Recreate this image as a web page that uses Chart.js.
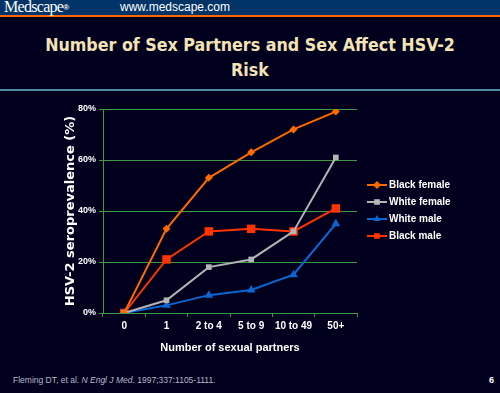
<!DOCTYPE html>
<html>
<head>
<meta charset="utf-8">
<script src="https://cdn.jsdelivr.net/npm/chart.js@4/dist/chart.umd.min.js"></script>
<style>
    html, body { margin: 0; padding: 0; }
    body { width: 500px; height: 393px; background: #00001e; position: relative; overflow: hidden; font-family: "Liberation Sans", Arial, sans-serif; }
    #topbar { position: absolute; left: 0; top: 0; width: 500px; height: 15px; background: #003366; border-bottom: 2px solid #ff6600; }
    #brand { position: absolute; left: 4px; top: -2px; color: #fff; font-family: "Liberation Serif", serif; font-size: 16px; letter-spacing: -0.7px; }
    #brand sup { font-size: 8px; font-family: "Liberation Sans", sans-serif; font-weight: bold; vertical-align: 2px; }
    #site { position: absolute; left: 120px; top: 0px; color: #fff; font-size: 12px; }
    #title { position: absolute; left: 0; top: 33px; width: 500px; text-align: center; color: #f3e3b5; font-family: "DejaVu Sans Condensed", "DejaVu Sans", sans-serif; font-weight: bold; font-size: 17.7px; line-height: 25px; }
    #rule { position: absolute; left: 0; top: 89px; width: 500px; height: 2px; background: #4f8aa8; }
    #source { position: absolute; left: 13px; top: 375px; color: #b8b8c8; font-size: 8.5px; }
    #page { position: absolute; left: 489px; top: 375px; color: #fff; font-size: 9px; font-weight: bold; }
    #chart { position: absolute; left: 0; top: 0; }
</style>
</head>
<body>
<div id="topbar"><div id="brand">Medscape<sup>®</sup></div><div id="site">www.medscape.com</div></div>
<div id="title">Number of Sex Partners and Sex Affect HSV-2<br>Risk</div>
<div id="rule"></div>
<div id="source">Fleming DT, et al. <i>N Engl J Med.</i> 1997;337:1105-1111.</div>
<div id="page">6</div>
<canvas id="chart" width="500" height="393"></canvas>
<script>
// Categories and series (percent seropositive)
const partnerGroups = ['0', '1', '2 to 4', '5 to 9', '10 to 49', '50+'];
const blackFemale = [0, 33, 53, 63, 72, 79];
const whiteFemale = [0, 5, 18, 21, 32, 61];
const whiteMale = [0, 3, 7, 9, 15, 35];
const blackMale = [0, 21, 32, 33, 32, 41];
const yTicks = [0, 20, 40, 60, 80];

const gridGreen = '#3a9a46';
const seriesStyles = [
    { label: 'Black female', data: blackFemale, color: '#ff6a00', point: 'rectRot', radius: 4 },
    { label: 'White female', data: whiteFemale, color: '#b4b4b4', point: 'rect', radius: 4 },
    { label: 'White male', data: whiteMale, color: '#0a66d0', point: 'triangle', radius: 5 },
    { label: 'Black male', data: blackMale, color: '#ff3300', point: 'rect', radius: 6 }
];

// Draws the legend to the right of the plot, line sample + marker + text
const sideLegend = {
    id: 'sideLegend',
    afterDraw(chart) {
        const ctx = chart.ctx;
        ctx.save();
        ctx.font = 'bold 10px "Liberation Sans", Arial, sans-serif';
        ctx.textBaseline = 'middle';
        chart.data.datasets.forEach((ds, i) => {
            const y = 185 + i * 17;
            const x0 = 367, x1 = 387;
            ctx.strokeStyle = ds.borderColor;
            ctx.lineWidth = 2;
            ctx.beginPath();
            ctx.moveTo(x0, y);
            ctx.lineTo(x1, y);
            ctx.stroke();
            ctx.fillStyle = ds.backgroundColor;
            Chart.helpers.drawPoint(ctx, { pointStyle: ds.pointStyle, radius: Math.min(ds.pointRadius, 4), rotation: 0, borderWidth: 0 }, (x0 + x1) / 2, y);
            ctx.fillStyle = '#ffffff';
            ctx.fillText(ds.label, 389, y);
        });
        ctx.restore();
    }
};

new Chart(document.getElementById('chart'), {
    type: 'line',
    data: {
        labels: partnerGroups,
        datasets: seriesStyles.map(s => ({
            label: s.label,
            data: s.data,
            borderColor: s.color,
            backgroundColor: s.color,
            borderWidth: 2,
            pointStyle: s.point,
            pointRadius: s.radius,
            pointBorderWidth: 0,
            tension: 0
        }))
    },
    options: {
        responsive: false,
        animation: false,
        layout: { padding: { left: 63, right: 143, top: 109, bottom: 38 } },
        plugins: {
            legend: { display: false },
            tooltip: { enabled: false }
        },
        scales: {
            x: {
                offset: true,
                afterFit(scale) { scale.height = 42; },
                grid: {
                    offset: true,
                    drawOnChartArea: true,
                    color: ctx => (ctx.index === partnerGroups.length ? gridGreen : 'rgba(0,0,0,0)'),
                    tickColor: gridGreen,
                    tickLength: 4,
                    lineWidth: 1
                },
                border: { color: gridGreen, width: 1 },
                ticks: {
                    color: '#ffffff',
                    padding: 3,
                    maxRotation: 0,
                    minRotation: 0,
                    autoSkip: false,
                    font: { family: '"Liberation Sans", Arial, sans-serif', size: 10, weight: 'bold' }
                },
                title: {
                    display: true,
                    text: 'Number of sexual partners',
                    color: '#ffffff',
                    padding: { top: 6, bottom: 0 },
                    font: { family: '"Liberation Sans", Arial, sans-serif', size: 11, weight: 'bold' }
                }
            },
            y: {
                min: 0,
                max: 80,
                afterFit(scale) { scale.width = 40; },
                afterBuildTicks(scale) { scale.ticks = yTicks.map(v => ({ value: v })); },
                grid: {
                    color: gridGreen,
                    tickColor: gridGreen,
                    tickLength: 4,
                    lineWidth: 1
                },
                border: { color: gridGreen, width: 1 },
                ticks: {
                    color: '#ffffff',
                    padding: 3,
                    callback: v => v + '%',
                    font: { family: '"Liberation Sans", Arial, sans-serif', size: 9, weight: 'bold' }
                },
                title: {
                    display: true,
                    text: 'HSV-2 seroprevalence (%)',
                    color: '#ffffff',
                    padding: 0,
                    font: { family: '"DejaVu Sans", sans-serif', size: 13, weight: 'bold' }
                }
            }
        }
    },
    plugins: [sideLegend]
});
</script>
</body>
</html>
